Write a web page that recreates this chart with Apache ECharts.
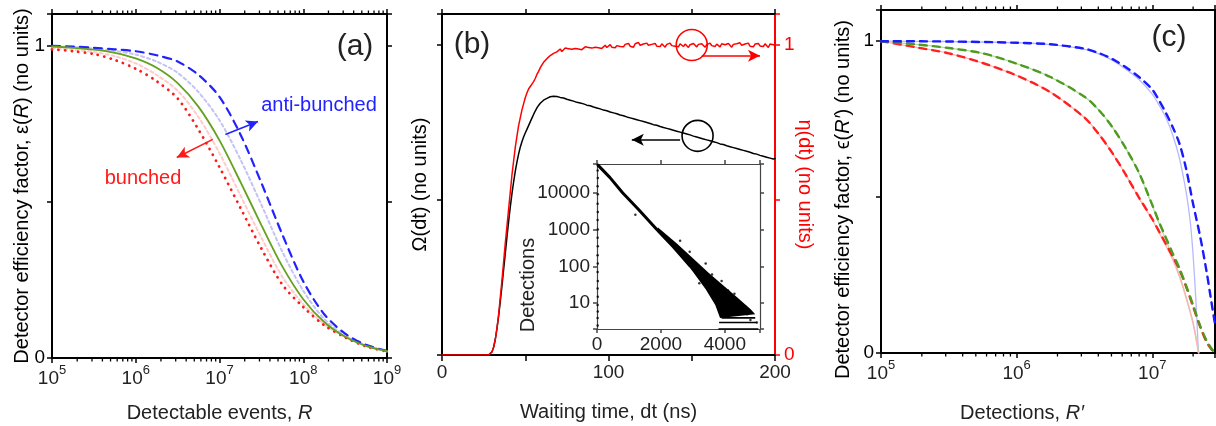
<!DOCTYPE html>
<html>
<head>
<meta charset="utf-8">
<script src="https://cdn.jsdelivr.net/npm/echarts@6/dist/echarts.min.js"></script>
<style>html,body{margin:0;padding:0;background:#fff}#main{width:1216px;height:426px}</style>
</head>
<body>
<div id="main"></div>
<script>
// (a) detector efficiency vs detectable events, x given as log10(R)
var aExp = [5, 5.25, 5.5, 5.75, 6, 6.25, 6.5, 6.75, 7, 7.25, 7.5, 7.75, 8, 8.25, 8.5, 8.75, 9];
var aAnti = [0.998, 0.996, 0.992, 0.987, 0.981, 0.968, 0.948, 0.905, 0.835, 0.715, 0.56, 0.395, 0.245, 0.14, 0.078, 0.042, 0.023];
var aAntiPale = [0.997, 0.994, 0.99, 0.982, 0.97, 0.948, 0.912, 0.85, 0.76, 0.635, 0.49, 0.34, 0.215, 0.125, 0.072, 0.04, 0.022];
var aPoisson = [0.996, 0.992, 0.986, 0.976, 0.958, 0.928, 0.879, 0.803, 0.696, 0.563, 0.425, 0.293, 0.188, 0.115, 0.068, 0.039, 0.022];
var aBunchPale = [0.991, 0.986, 0.978, 0.965, 0.942, 0.905, 0.855, 0.77, 0.655, 0.52, 0.385, 0.26, 0.172, 0.108, 0.067, 0.038, 0.021];
var aBunch = [0.987, 0.981, 0.972, 0.953, 0.925, 0.885, 0.83, 0.73, 0.61, 0.48, 0.35, 0.235, 0.163, 0.105, 0.066, 0.037, 0.021];

// (b) waiting time histogram, one value per ns starting at 0 ns
var bStep = 1;
var bOmega = [0,0,0,0,0,0,0,0,0,0, 0,0,0,0,0,0,0,0,0,0, 0,0,0,0,0,0,0,0,0,
  0.003, 0.01, 0.025, 0.05, 0.085, 0.125, 0.172, 0.222, 0.275, 0.327,
  0.38, 0.43, 0.477, 0.52, 0.558, 0.592, 0.622, 0.648, 0.67, 0.688,
  0.703, 0.716, 0.728, 0.74, 0.752, 0.764, 0.776, 0.787, 0.797, 0.805,
  0.812, 0.818, 0.822, 0.826, 0.828, 0.83, 0.833, 0.832, 0.835, 0.836, 0.834,
  0.835, 0.831, 0.833, 0.829, 0.83, 0.825, 0.827, 0.822, 0.825, 0.819,
  0.821, 0.815, 0.818, 0.813, 0.814, 0.81, 0.812, 0.806, 0.809, 0.804,
  0.806, 0.8, 0.803, 0.797, 0.798, 0.794, 0.797, 0.79, 0.793, 0.788,
  0.79, 0.784, 0.787, 0.781, 0.782, 0.778, 0.781, 0.774, 0.777, 0.772,
  0.775, 0.768, 0.771, 0.765, 0.767, 0.762, 0.765, 0.759, 0.761, 0.756,
  0.759, 0.753, 0.755, 0.75, 0.752, 0.747, 0.75, 0.743, 0.746, 0.741,
  0.744, 0.737, 0.74, 0.734, 0.736, 0.731, 0.734, 0.728, 0.73, 0.725,
  0.728, 0.722, 0.724, 0.719, 0.721, 0.716, 0.719, 0.713, 0.715, 0.71,
  0.713, 0.706, 0.709, 0.703, 0.705, 0.7, 0.703, 0.697, 0.699, 0.694,
  0.697, 0.691, 0.693, 0.688, 0.69, 0.685, 0.688, 0.681, 0.684, 0.679,
  0.682, 0.675, 0.678, 0.672, 0.674, 0.669, 0.672, 0.666, 0.668, 0.663,
  0.666, 0.66, 0.662, 0.657, 0.659, 0.654, 0.657, 0.65, 0.653, 0.648,
  0.651, 0.644, 0.647, 0.641, 0.643, 0.638, 0.641, 0.635, 0.637, 0.632,
  0.634];
var bEta = [0,0,0,0,0,0,0,0,0,0, 0,0,0,0,0,0,0,0,0,0, 0,0,0,0,0,0,0,0,0,
  0.003, 0.01, 0.025, 0.05, 0.085, 0.13, 0.185, 0.24, 0.3, 0.36,
  0.415, 0.47, 0.525, 0.58, 0.625, 0.67, 0.705, 0.74, 0.765, 0.79,
  0.81, 0.83, 0.845, 0.858, 0.866, 0.874, 0.882, 0.892, 0.905, 0.915,
  0.926, 0.936, 0.944, 0.95, 0.956, 0.961, 0.966, 0.97, 0.973, 0.976, 0.978,
  0.982, 0.987, 0.979, 0.985, 0.99, 0.984, 0.988, 0.992, 0.986, 0.983,
  0.989, 0.993, 0.987, 0.991, 0.985, 0.99, 0.994, 0.988, 0.992, 0.996,
  0.99, 0.987, 0.993, 0.998, 0.991, 0.995, 0.989, 0.994, 0.999, 0.992,
  0.996, 1.001, 0.993, 0.997, 0.991, 0.998, 1.003, 0.995, 0.999, 0.994,
  1.002, 0.997, 1.005, 0.996, 1.0, 0.993, 1.004, 0.998, 1.008, 0.999,
  0.995, 1.003, 0.997, 1.006, 0.999, 0.994, 1.002, 0.998, 1.005, 0.996,
  1.001, 0.995, 1.004, 0.999, 0.993, 1.002, 0.997, 1.006, 0.998, 1.003,
  0.996, 1.001, 0.994, 1.004, 0.999, 0.995, 1.003, 0.998, 0.992, 1.001,
  0.997, 1.005, 0.999, 0.994, 1.002, 0.996, 1.004, 0.999, 0.993, 1.001,
  0.997, 1.006, 0.998, 1.002, 0.995, 1.003, 0.999, 0.994, 1.004, 0.998,
  1.001, 0.996, 1.005, 0.999, 0.993, 1.002, 0.997, 1.004, 0.998, 1.007,
  0.999, 0.995, 1.003, 0.998, 1.006, 0.996, 1.001, 0.994, 1.003, 0.999,
  1.005, 0.997, 1.002, 0.995, 1.004, 0.998, 0.992, 1.003, 0.999, 1.001,
  0.998];

// (b) inset: detections vs waiting time (ns)
var inTrend = [[30, 56000], [400, 26000], [800, 10000], [1300, 3500], [1850, 1050], [2400, 330], [2900, 105]];
var inUpper = [[1900, 1150], [2500, 420], [3000, 165], [3500, 66], [4000, 28], [4400, 14], [4800, 7], [4950, 5]];
var inLower = [[1900, 850], [2500, 260], [3000, 72], [3400, 24], [3700, 9], [3850, 4]];
var inFloor = [[3800, 5050, 2], [3820, 5000, 3], [3900, 4950, 4]];
var inDots = [[20, 2.5], [20, 4], [25, 6], [20, 9], [25, 15], [20, 25], [25, 40], [20, 70], [25, 120], [20, 200],
  [25, 350], [20, 600], [25, 1000], [20, 1800], [25, 3000], [20, 5000], [25, 9000], [20, 15000], [25, 25000], [20, 40000],
  [1200, 2500], [2600, 500], [2900, 250], [3200, 35], [3400, 120], [3600, 60], [3900, 40], [4100, 22],
  [4300, 18], [4500, 10], [4650, 8], [4800, 3.5], [5000, 3], [4700, 5], [4200, 6]];

// (c) detector efficiency vs detections, pairs of [log10(R'), value]
var cBlue = [[5, 1.0], [5.5, 0.999], [6, 0.995], [6.25, 0.99], [6.5, 0.976], [6.6, 0.963], [6.7, 0.944], [6.8, 0.918], [6.9, 0.886], [7, 0.845], [7.05, 0.81], [7.1, 0.77], [7.15, 0.725], [7.2, 0.672], [7.25, 0.59], [7.3, 0.48], [7.35, 0.38], [7.4, 0.262], [7.43, 0.18], [7.465, 0.085]];
var cBluePale = [[5, 1.0], [5.5, 0.999], [6, 0.995], [6.25, 0.989], [6.5, 0.974], [6.6, 0.96], [6.7, 0.94], [6.8, 0.912], [6.9, 0.878], [7, 0.83], [7.05, 0.795], [7.1, 0.755], [7.15, 0.7], [7.2, 0.625], [7.25, 0.515], [7.28, 0.42], [7.3, 0.32], [7.32, 0.18], [7.335, 0.05], [7.34, 0.0]];
var cGreen = [[5, 1.0], [5.25, 0.99], [5.5, 0.978], [5.75, 0.961], [6, 0.928], [6.25, 0.885], [6.5, 0.822], [6.6, 0.782], [6.7, 0.728], [6.8, 0.66], [6.9, 0.58], [7, 0.475], [7.05, 0.42], [7.1, 0.37], [7.15, 0.32], [7.2, 0.272], [7.25, 0.215], [7.3, 0.155], [7.35, 0.09], [7.4, 0.04], [7.44, 0.012], [7.465, 0.0]];
var cGreenPale = [[5, 1.0], [5.25, 0.99], [5.5, 0.978], [5.75, 0.961], [6, 0.928], [6.25, 0.885], [6.5, 0.822], [6.6, 0.782], [6.7, 0.728], [6.8, 0.66], [6.9, 0.578], [7, 0.472], [7.05, 0.415], [7.1, 0.362], [7.15, 0.31], [7.2, 0.25], [7.25, 0.18], [7.3, 0.1], [7.345, 0.0]];
var cRed = [[5, 1.0], [5.25, 0.981], [5.5, 0.961], [5.75, 0.93], [6, 0.89], [6.25, 0.836], [6.5, 0.755], [6.6, 0.705], [6.7, 0.645], [6.8, 0.575], [6.9, 0.5], [7, 0.43], [7.05, 0.39], [7.1, 0.35], [7.15, 0.31], [7.2, 0.268], [7.25, 0.212], [7.3, 0.15], [7.35, 0.088], [7.4, 0.035], [7.44, 0.01], [7.465, 0.0]];
var cRedPale = [[5, 1.0], [5.25, 0.981], [5.5, 0.961], [5.75, 0.93], [6, 0.89], [6.25, 0.836], [6.5, 0.755], [6.6, 0.705], [6.7, 0.645], [6.8, 0.575], [6.9, 0.498], [7, 0.427], [7.05, 0.386], [7.1, 0.344], [7.15, 0.3], [7.2, 0.245], [7.25, 0.175], [7.3, 0.095], [7.34, 0.0]];

// log axis minor tick multipliers
var minorMult = [2, 3, 4, 5, 6, 7, 8, 9];

var FONT = '"Liberation Sans", Arial, sans-serif';
var INK = '#222';

var dom = document.getElementById('main');
var myChart = echarts.init(dom);

function expPairs(exps, vals) {
    return exps.map(function (e, i) { return [Math.pow(10, e), vals[i]]; });
}
function expData(list) {
    return list.map(function (d) { return [Math.pow(10, d[0]), d[1]]; });
}
function timeData(vals) {
    return vals.map(function (v, i) { return [i * bStep, v]; });
}
function minorTicks(fromExp, toExp, maxVal) {
    var out = [];
    for (var e = fromExp; e <= toExp; e++) {
        minorMult.forEach(function (m) {
            var v = m * Math.pow(10, e);
            if (v < maxVal) out.push([v, 0.5]);
        });
    }
    return out;
}

function frame(color, width) {
    return { show: true, onZero: false, lineStyle: { color: color || '#000', width: width || 2 } };
}
function ticks(color, len) {
    return { show: true, length: len || 5, lineStyle: { color: color || '#000', width: 1.5 } };
}
var powRich = {
    b: { fontSize: 19, fontFamily: FONT, color: INK, verticalAlign: 'bottom', lineHeight: 24 },
    s: { fontSize: 13, fontFamily: FONT, color: INK, verticalAlign: 'top', lineHeight: 12 }
};
function powLabel(v) {
    var e = Math.log10(v), r = Math.round(e);
    return Math.abs(e - r) < 1e-6 ? '{b|10}{s|' + r + '}' : '';
}
function nameStyle(color, extra) {
    var s = {
        fontSize: 20, fontFamily: FONT, color: color || INK,
        rich: { i: { fontSize: 20, fontFamily: FONT, color: color || INK, fontStyle: 'italic' } }
    };
    for (var k in extra) s[k] = extra[k];
    return s;
}
function numLabel(fmt, color, margin) {
    return { show: true, formatter: fmt, color: color || INK, fontSize: 19, fontFamily: FONT, margin: margin || 7 };
}
function zeroOne(v) { return v === 0 || v === 1 ? String(v) : ''; }
function noSplit() { return { show: false }; }

function logX(grid, pos, max, label, name, gap, pad) {
    return {
        type: 'log', gridIndex: grid, position: pos, min: 1e5, max: max,
        axisLine: frame(), axisTick: ticks(), splitLine: noSplit(), minorTick: { show: false },
        axisLabel: label ? { show: true, formatter: powLabel, rich: powRich, margin: 6 } : { show: false },
        name: name || '', nameLocation: 'middle', nameGap: gap || 0, nameMoveOverlap: false,
        nameTextStyle: nameStyle(INK, pad ? { padding: pad } : {})
    };
}
function unitY(grid, pos, label, name, gap, color, rot, pad) {
    return {
        type: 'value', gridIndex: grid, position: pos, min: 0, max: 1.1, interval: 0.5,
        axisLine: frame(color), axisTick: ticks(color), splitLine: noSplit(),
        axisLabel: label ? numLabel(zeroOne, color, pos === 'right' ? 9 : 7) : { show: false },
        name: name || '', nameLocation: 'middle', nameGap: gap || 0, nameRotate: rot, nameMoveOverlap: false,
        nameTextStyle: nameStyle(color, pad ? { padding: pad } : {})
    };
}
function curve(xi, yi, data, color, width, dash, z) {
    return {
        type: 'line', xAxisIndex: xi, yAxisIndex: yi, data: data, symbol: 'none', smooth: 0.3,
        silent: true, z: z || 2,
        lineStyle: { color: color, width: width, type: dash || 'solid', cap: 'round' }
    };
}
function tickSeries(xi, yi, data) {
    return {
        type: 'custom', xAxisIndex: xi, yAxisIndex: yi, data: data, silent: true, clip: false,
        renderItem: function (params, api) {
            var x = api.coord([api.value(0), api.value(1)])[0];
            var cs = params.coordSys;
            var st = { stroke: '#000', lineWidth: 1.3 };
            return {
                type: 'group', children: [
                    { type: 'line', shape: { x1: x, y1: cs.y + cs.height, x2: x, y2: cs.y + cs.height + 3.5 }, style: st },
                    { type: 'line', shape: { x1: x, y1: cs.y, x2: x, y2: cs.y - 3.5 }, style: st }
                ]
            };
        }
    };
}
function arrow(from, to, color) {
    return {
        silent: true, symbol: ['none', 'arrow'], symbolSize: 11, label: { show: false },
        lineStyle: { color: color, width: 1.6, type: 'solid' },
        itemStyle: { color: color },
        data: [[
            { coord: from, symbol: 'none' },
            { coord: to, symbol: 'arrow', symbolSize: [9, 12], itemStyle: { color: color } }
        ]]
    };
}
function ring(at, color) {
    return {
        silent: true, symbol: 'circle', symbolSize: 31, label: { show: false },
        itemStyle: { color: 'transparent', borderColor: color, borderWidth: 1.6 },
        data: [{ coord: at }]
    };
}
function text(x, y, str, size, color, rot) {
    return {
        type: 'text', x: x, y: y, rotation: rot || 0, silent: true,
        style: { text: str, font: size + 'px ' + FONT, fill: color || INK, align: 'center', verticalAlign: 'middle', textAlign: 'center', textVerticalAlign: 'middle' }
    };
}

var aGreen = curve(0, 0, expPairs(aExp, aPoisson), '#63a11f', 1.8, 'solid', 5);
var aRed = curve(0, 0, expPairs(aExp, aBunch), '#ff1a1a', 2.8, [0.1, 6.5], 3);
aRed.markLine = arrow([Math.pow(10, 6.92), 0.699], [Math.pow(10, 6.49), 0.641], '#ff1a1a');
var aBlue = curve(0, 0, expPairs(aExp, aAnti), '#2222ff', 2.2, [8, 6], 4);
aBlue.markLine = arrow([Math.pow(10, 7.07), 0.715], [Math.pow(10, 7.46), 0.756], '#2222ff');

var bBlack = curve(2, 2, timeData(bOmega), '#000', 1.5, 'solid', 2);
bBlack.smooth = false;
bBlack.markLine = arrow([143, 0.694], [114, 0.694], '#000');
bBlack.markPoint = ring([153.5, 0.707], '#000');
var bRed = curve(2, 3, timeData(bEta), '#ff0000', 1.5, 'solid', 3);
bRed.smooth = false;
bRed.markLine = arrow([156, 0.965], [191, 0.965], '#ff0000');
bRed.markPoint = ring([150, 1.0], '#ff0000');

var inTrendS = curve(4, 4, inTrend, '#000', 3, 'solid', 3);
inTrendS.smooth = false;

var option = {
    animation: false,
    backgroundColor: '#fff',
    textStyle: { fontFamily: FONT },
    grid: [
        { left: 52, top: 14, width: 335, height: 344, outerBoundsMode: 'none' },
        { left: 442, top: 14, width: 333, height: 341, outerBoundsMode: 'none' },
        { left: 597, top: 164, width: 163, height: 165, show: true, backgroundColor: '#fff', borderWidth: 0, outerBoundsMode: 'none' },
        { left: 881, top: 10, width: 334, height: 343, outerBoundsMode: 'none' }
    ],
    xAxis: [
        logX(0, 'bottom', 1e9, true, 'Detectable events, {i|R}', 45),
        logX(0, 'top', 1e9, false),
        {
            type: 'value', gridIndex: 1, position: 'bottom', min: 0, max: 200, interval: 50,
            axisLine: frame(), axisTick: ticks('#000', 6), splitLine: noSplit(),
            axisLabel: numLabel(function (v) { return v % 100 === 0 ? String(v) : ''; }, INK, 8),
            name: 'Waiting time, dt (ns)', nameLocation: 'middle', nameGap: 47, nameMoveOverlap: false,
            nameTextStyle: nameStyle(INK)
        },
        {
            type: 'value', gridIndex: 1, position: 'top', min: 0, max: 200, interval: 50,
            axisLine: frame(), axisTick: ticks('#000', 5), splitLine: noSplit(), axisLabel: { show: false }
        },
        {
            type: 'value', gridIndex: 2, position: 'bottom', min: 0, max: 5100, interval: 2000,
            axisLine: frame('#444', 1.2), axisTick: ticks('#444', 4), splitLine: noSplit(),
            axisLabel: numLabel(function (v) { return v % 2000 === 0 ? String(v) : ''; }, INK, 6)
        },
        {
            type: 'value', gridIndex: 2, position: 'top', min: 0, max: 5100, interval: 2000,
            axisLine: frame('#444', 1.2), axisTick: ticks('#444', 4), splitLine: noSplit(), axisLabel: { show: false }
        },
        logX(3, 'bottom', 2.9e7, true, 'Detections, {i|R′}', 50, [0, 52, 0, 0]),
        logX(3, 'top', 2.9e7, false)
    ],
    yAxis: [
        unitY(0, 'left', true, 'Detector efficiency factor, ε({i|R}) (no units)', 20, '#000', 90),
        unitY(0, 'right', false),
        unitY(1, 'left', false, 'Ω(dt) (no units)', 12, '#000', 90),
        unitY(1, 'right', true, 'η(dt) (no units)', 20, '#ff0000', -90),
        {
            type: 'log', gridIndex: 2, position: 'left', min: 2, max: 60000,
            axisLine: frame('#444', 1.2), axisTick: ticks('#444', 4), splitLine: noSplit(), minorTick: { show: false },
            axisLabel: numLabel(function (v) {
                var e = Math.log10(v);
                return Math.abs(e - Math.round(e)) < 1e-6 && v >= 10 ? String(Math.round(v)) : '';
            }, INK, 7)
        },
        {
            type: 'log', gridIndex: 2, position: 'right', min: 2, max: 60000,
            axisLine: frame('#444', 1.2), axisTick: ticks('#444', 4), splitLine: noSplit(), axisLabel: { show: false }
        },
        unitY(3, 'left', true, 'Detector efficiency factor, ϵ({i|R′}) (no units)', 28, '#000', 90, [0, 36, 0, 0]),
        unitY(3, 'right', false)
    ],
    series: [
        // (a)
        tickSeries(0, 0, minorTicks(5, 8, 1e9)),
        curve(0, 0, expPairs(aExp, aAntiPale), '#c4c4f4', 2, [3, 3], 2),
        curve(0, 0, expPairs(aExp, aBunchPale), '#ffcaca', 2, [3, 3], 2),
        aRed, aBlue, aGreen,
        // (b)
        bBlack, bRed,
        // (b) inset
        inTrendS,
        {
            type: 'custom', xAxisIndex: 4, yAxisIndex: 4, data: [[3000, 100]], silent: true, z: 3,
            renderItem: function (params, api) {
                var pts = inUpper.concat(inLower.slice().reverse()).map(function (d) { return api.coord(d); });
                return { type: 'polygon', shape: { points: pts }, style: { fill: '#000' } };
            }
        },
        {
            type: 'custom', xAxisIndex: 4, yAxisIndex: 4, data: inFloor, silent: true, z: 3,
            renderItem: function (params, api) {
                var a = api.coord([api.value(0), api.value(2)]);
                var b = api.coord([api.value(1), api.value(2)]);
                return { type: 'line', shape: { x1: a[0], y1: a[1], x2: b[0], y2: b[1] }, style: { stroke: '#000', lineWidth: 1.6 } };
            }
        },
        {
            type: 'scatter', xAxisIndex: 4, yAxisIndex: 4, data: inDots, symbolSize: 2.5, silent: true, z: 3,
            itemStyle: { color: '#000' }
        },
        // (c)
        tickSeries(6, 6, minorTicks(5, 7, 2.9e7)),
        curve(6, 6, expData(cBluePale), '#b8b8ff', 1.3, 'solid', 2),
        curve(6, 6, expData(cGreenPale), '#b0dca8', 1.3, 'solid', 2),
        curve(6, 6, expData(cRedPale), '#ffb4b4', 1.3, 'solid', 2),
        curve(6, 6, expData(cRed), '#ff2020', 2.4, [7, 6], 3),
        curve(6, 6, expData(cGreen), '#4f9a1f', 2.4, [7, 6], 3),
        curve(6, 6, expData(cBlue), '#1a1aff', 2.4, [7, 6], 3)
    ],
    graphic: [
        text(355, 47, '(a)', 30),
        text(319, 105, 'anti-bunched', 20, '#2222ff'),
        text(143, 178, 'bunched', 20, '#ff1a1a'),
        text(472, 45, '(b)', 30),
        text(528, 285, 'Detections', 20, INK, Math.PI / 2),
        text(1169, 38, '(c)', 30)
    ]
};

if (option && typeof option === 'object') {
    myChart.setOption(option);
}
</script>
</body>
</html>
